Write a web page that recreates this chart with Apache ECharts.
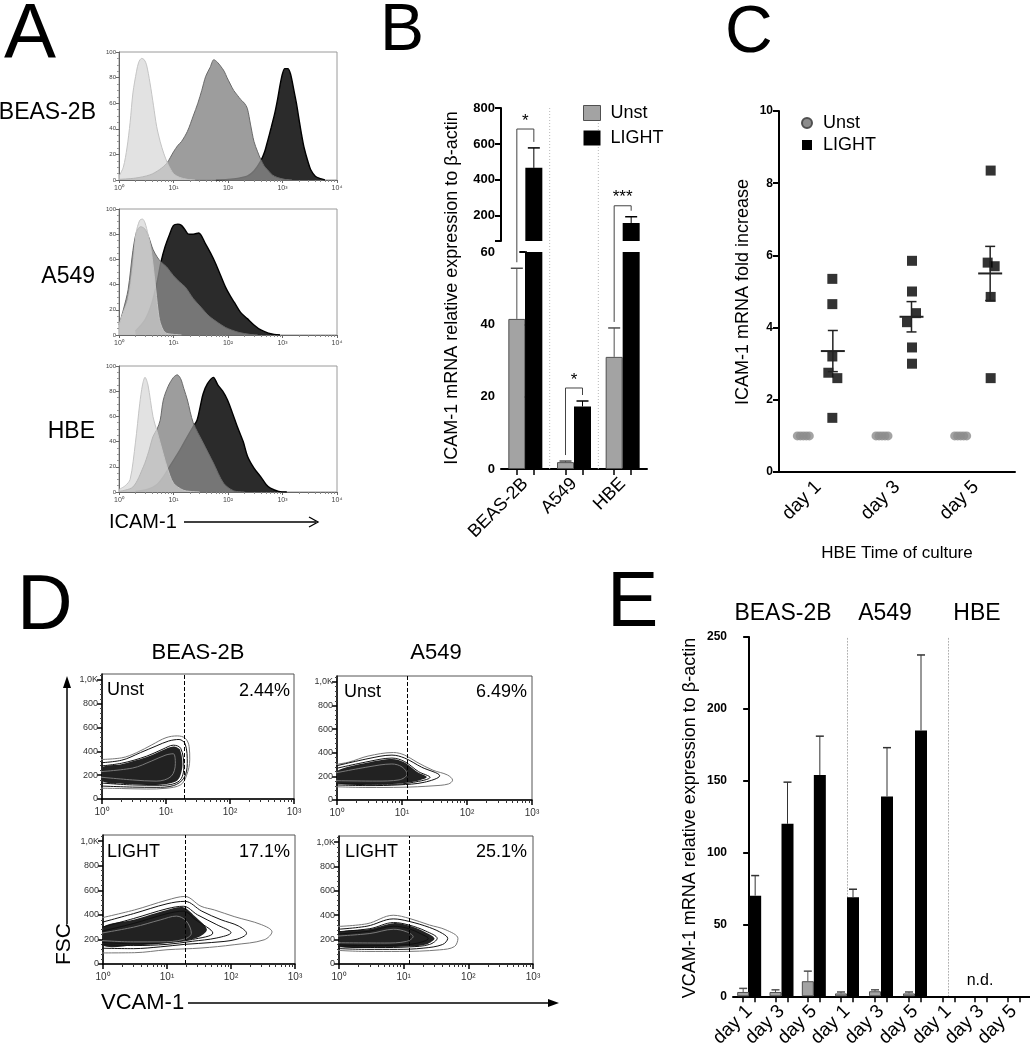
<!DOCTYPE html>
<html><head><meta charset="utf-8">
<script src="https://cdn.jsdelivr.net/npm/echarts@6/dist/echarts.min.js"></script>
<style>html,body{margin:0;padding:0;background:#fff}#c{width:1030px;height:1050px}</style>
</head><body><div id="c"></div>
<script>
// ================= DATA =================
// Panel A: ICAM-1 flow histograms  [intensity, % of max]
const histBeasIso   = [[1,3],[1.2,10],[1.4,25],[1.6,45],[1.8,68],[2.1,85],[2.3,92],[2.6,95],[2.9,94],[3.2,90],[3.7,76],[4.3,58],[4.9,42],[5.7,30],[6.6,21],[8,12],[10,5],[13,2],[18,0.5],[25,0]];
const histBeasUnst  = [[1,0.5],[2,1.5],[3.7,4],[5.5,8],[7.5,13],[10,22],[12,27],[14,30],[18,38],[23,50],[28,60],[33,70],[39,81],[47,88],[55,94],[64,92],[73,89],[85,85],[96,80],[110,75],[127,70],[150,66],[170,63],[200,60],[226,56],[260,43],[300,30],[350,22],[400,16],[460,11],[530,8],[650,4],[800,2],[1100,0.5],[1500,0]];
const histBeasLight = [[60,0],[100,0.5],[160,1.5],[226,3],[300,7],[400,15],[470,22],[530,30],[620,41],[720,52],[820,64],[910,75],[1000,83],[1100,87],[1250,87],[1400,83],[1620,70],[1800,60],[2000,48],[2250,35],[2500,25],[2900,15],[3300,8],[4000,3],[5000,1],[6000,0]];
const histA549Iso   = [[1,8],[1.2,18],[1.47,28],[1.8,54],[2.06,81],[2.4,91],[2.7,92],[3,89],[3.4,80],[3.9,67],[4.6,41],[5.2,20],[5.7,10],[7,2],[10,0.5],[14,0]];
const histA549Unst  = [[1,8],[1.2,20],[1.47,36],[1.8,67],[2.1,82],[2.5,86],[3,84],[3.5,78],[4.2,68],[5,62],[5.9,58],[7.5,54],[10,47],[13,42],[16.5,38],[23,29],[32,22],[45,15],[67,9.5],[90,6],[116,4],[160,2],[250,0.5],[350,0]];
const histA549Light = [[2,3],[3,12],[4,25],[5,42],[5.9,58],[7,70],[8.5,80],[10,87],[12,88],[14,87],[16,84],[19,80],[23,80],[29,81],[38,73],[48,65],[59,57],[72,48],[90,38],[110,31],[130,26],[170,18],[226,13],[300,8],[400,4],[550,1.5],[700,0.5],[900,0]];
const histHbeIso    = [[1,2],[1.3,5],[1.6,10],[2,39],[2.4,70],[2.7,85],[3,91],[3.4,85],[4.2,60],[5,48],[5.7,39],[6.6,29],[7.6,20],[10,7],[15,1.5],[20,0.5],[30,0]];
const histHbeUnst   = [[1,0.5],[1.8,4],[2.8,20],[3.5,32],[4.2,44],[5,50],[5.7,57],[6.5,73],[8,84],[10,91],[11.7,93],[13.5,90],[15.5,82],[18,73],[23,55],[35,39],[54,23],[83,7],[126,1],[200,0]];
const histHbeLight  = [[2,0.5],[3.3,2],[5,6],[6.5,12],[9,22],[13,33],[18,44],[23,52],[27,57],[31,68],[35,78],[42,86],[54,91],[65,85],[80,80],[98,73],[120,63],[148,52],[190,40],[230,28],[300,19],[400,12],[500,6],[600,3],[850,0.5],[1200,0]];
const histRowLabels = ['BEAS-2B','A549','HBE'];

// Panel B: ICAM-1 mRNA
const bCategories = ['BEAS-2B','A549','HBE'];
const bUnst     = [41.5, 1.9, 31];
const bUnstErr  = [14, 0.3, 8];
const bLight    = [467, 17.3, 160];
const bLightErr = [111, 1.5, 35];
const bSigText  = ['*','*','***'];
const bSigLevel = [683, 22.4, 256];
const bUpperTicks = [60,200,400,600,800];
const bUpperLabels = [200,400,600,800];

// Panel C: HBE time course
const cDays  = ['day 1','day 3','day 5'];
const cUnst  = [[1,1,1,1,1],[1,1,1,1,1],[1,1,1,1,1]];
const cLight = [[5.35,4.65,3.2,2.75,2.6,1.5],[5.85,5.0,4.4,4.15,3.45,3.0],[8.35,5.8,5.7,4.85,2.6]];
const cMean  = [3.35, 4.3, 5.5];
const cSem   = [0.57, 0.42, 0.75];

// Panel D: VCAM-1 contour plots  [VCAM-1 intensity, FSC]
const dBeasUnstContours = [
  [[0.7,330],[2,345],[3.5,390],[6,455],[10,515],[15,530],[20,510],[23,440],[23.5,330],[21,200],[17,120],[10,90],[5,84],[2,88],[0.7,92]],
  [[0.7,300],[2,325],[4,390],[7,445],[11,487],[16,500],[20,460],[21.5,300],[19,175],[13,112],[7,98],[3,100],[0.7,112]],
  [[0.7,270],[2,300],[5,360],[9,420],[13,452],[17,425],[19,270],[16,150],[8,115],[3,118],[0.7,140]]
];
const dBeasUnstCore  = [[1,265],[2,292],[5,352],[9,412],[13,442],[16.5,415],[18,270],[15,155],[8,120],[3,124],[1,150]];
const dBeasUnstInner = [[0.7,225],[3,260],[6,320],[10,370],[13,380],[14,300],[12,190],[7,150],[3,160],[0.7,190]];
const dA549UnstContours = [
  [[0.7,290],[1.5,320],[3,372],[7.4,402],[11,380],[17,320],[30,252],[50,212],[60,168],[52,136],[30,120],[10,108],[3,106],[0.7,115]],
  [[0.7,270],[3,350],[7,380],[11,355],[20,278],[38,205],[22,150],[9,128],[3,122],[0.7,130]],
  [[0.7,250],[3,325],[7,355],[11,325],[18,240],[27,192],[15,150],[7,133],[0.7,140]]
];
const dA549UnstCore  = [[1,245],[3,318],[7,348],[11,318],[17,240],[24,193],[14,152],[7,136],[1,142]];
const dA549UnstInner = [[0.7,215],[3,280],[7,305],[10,280],[12,220],[9,170],[4,160],[0.7,165]];
const dBeasLightContours = [
  [[0.7,360],[3.1,440],[10,520],[19,550],[34,470],[55,440],[112,386],[300,320],[437,262],[330,197],[112,157],[34,130],[10,116],[3.1,92],[0.7,90]],
  [[0.7,320],[3,410],[10,490],[19,510],[35,430],[70,360],[130,310],[175,250],[120,200],[50,175],[19,160],[8,140],[3,125],[0.7,130]],
  [[0.7,280],[3,370],[10,450],[18,470],[30,400],[60,320],[100,255],[60,212],[25,185],[10,160],[3,150],[0.7,160]],
  [[0.7,250],[3,330],[10,410],[18,430],[28,360],[52,252],[25,200],[10,175],[3,165],[0.7,180]]
];
const dBeasLightCore  = [[1,300],[3,360],[10,440],[18,462],[27,390],[42,280],[30,215],[12,175],[3,150],[1,150]];
const dBeasLightInner = [[0.7,240],[3,300],[8,360],[14,390],[20,350],[24,250],[18,200],[8,180],[3,180],[0.7,195]];
const dA549LightContours = [
  [[0.7,305],[2.7,330],[6.9,400],[12.4,373],[25,320],[45,280],[69,210],[61,143],[36,116],[8.7,103],[2.7,103],[0.7,116]],
  [[0.7,280],[2.7,310],[6.9,370],[12,350],[25,300],[40,250],[48,210],[40,160],[20,130],[8,120],[2.7,120],[0.7,130]],
  [[0.7,260],[3,290],[7,340],[12,320],[22,270],[33,210],[25,160],[12,140],[4,135],[0.7,145]],
  [[0.7,240],[3,270],[7,310],[12,290],[18,250],[24,210],[16,170],[8,155],[3,150],[0.7,160]]
];
const dA549LightCore  = [[1,258],[3,288],[7,335],[12,315],[21,265],[30,210],[23,163],[12,143],[4,138],[1,145]];
const dA549LightInner = [[0.7,225],[3,250],[7,285],[11,265],[14,225],[11,185],[5,172],[0.7,175]];
const dGates    = [19, 12, 19, 12];
const dPercents = ['2.44%','6.49%','17.1%','25.1%'];
const dConditions = ['Unst','Unst','LIGHT','LIGHT'];
const dColumnTitles = ['BEAS-2B','A549'];
const dTicksY = [0,200,400,600,800,1000];

// Panel E: VCAM-1 mRNA
const eLines    = ['BEAS-2B','A549','HBE'];
const eDays     = ['day 1','day 3','day 5'];
const eUnst     = [[3,3,10.5],[2,3.5,2],[null,null,null]];
const eUnstErr  = [[2.5,1.5,7],[1,1,1],[null,null,null]];
const eLight    = [[70,120,154],[69,139,185],[null,null,null]];
const eLightErr = [[14,29,27],[5.5,34,52.5],[null,null,null]];

// ================= STYLE / LAYOUT =================
const FONT = "'Liberation Sans', Arial, Helvetica, sans-serif";
const SUP = ['⁰','¹','²','³','⁴'];
const logLabel = v => '10' + SUP[Math.round(Math.log10(v))];
const grids = [], xAxes = [], yAxes = [], series = [];
const addGrid = g => (grids.push(g), grids.length - 1);
const addX = a => (xAxes.push(a), xAxes.length - 1);
const addY = a => (yAxes.push(a), yAxes.length - 1);
const pairTicks = (n, barW, gridW) => { const off = (barW / 2) / (gridW / n); const t = []; for (let i = 0; i < n; i++) t.push(i - off, i + off); return t; };

function errItems(vals, errs, keep) {
  const out = [];
  vals.forEach((v, i) => { if (v == null) return; if (keep(v, v + errs[i])) out.push([i, v, v + errs[i]]); });
  return out;
}
function errSeries(xi, yi, items, side, color, barW, capW) {
  return {type: 'custom', xAxisIndex: xi, yAxisIndex: yi, silent: true, z: 5, data: items,
    encode: {x: 0, y: [1, 2]},
    renderItem: (params, api) => {
      const p0 = api.coord([api.value(0), api.value(1)]);
      const p1 = api.coord([api.value(0), api.value(2)]);
      const x = p0[0] + side * barW / 2;
      return {type: 'group', children: [
        {type: 'line', shape: {x1: x, y1: p0[1], x2: x, y2: p1[1]}, style: {stroke: color, lineWidth: 1}},
        {type: 'line', shape: {x1: x - capW / 2, y1: p1[1], x2: x + capW / 2, y2: p1[1]}, style: {stroke: color, lineWidth: 1.5}}
      ]};
    }};
}

// ---------- Panel A ----------
const histGrids = [{top: 52, height: 128}, {top: 209, height: 126}, {top: 366, height: 126}];
const histSets = [[histBeasLight, histBeasUnst, histBeasIso], [histA549Light, histA549Unst, histA549Iso], [histHbeLight, histHbeUnst, histHbeIso]];
const histLayer = [
  {fill: '#2b2b2b', op: 1, line: '#000', w: 1.4},
  {fill: '#878787', op: 0.82, line: '#6a6a6a', w: 1},
  {fill: '#d6d6d6', op: 0.7, line: '#c4c4c4', w: 1}
];
histGrids.forEach((hg, k) => {
  const g = addGrid({left: 119, width: 218, top: hg.top, height: hg.height, show: true, borderColor: '#9a9a9a', borderWidth: 1});
  const xi = addX({gridIndex: g, type: 'log', logBase: 10, min: 1, max: 10000,
    axisLine: {lineStyle: {color: '#666', width: 1}}, axisTick: {length: 3, lineStyle: {color: '#666'}},
    minorTick: {show: true, splitNumber: 9, length: 2, lineStyle: {color: '#888'}},
    axisLabel: {formatter: logLabel, fontSize: 7, color: '#444', margin: 5, fontFamily: FONT}, splitLine: {show: false}, minorSplitLine: {show: false}});
  const yi = addY({gridIndex: g, type: 'value', min: 0, max: 100, interval: 20,
    axisLine: {show: true, lineStyle: {color: '#666', width: 1}}, axisTick: {show: true, length: 3, lineStyle: {color: '#666'}},
    minorTick: {show: true, splitNumber: 4, length: 2, lineStyle: {color: '#999'}},
    axisLabel: {fontSize: 6, color: '#444', margin: 3, fontFamily: FONT}, splitLine: {show: false}});
  histSets[k].forEach((d, j) => {
    const L = histLayer[j];
    series.push({type: 'line', name: 'hist' + k + '_' + j, xAxisIndex: xi, yAxisIndex: yi, data: d, smooth: 0.3,
      symbol: 'none', silent: true, z: 2 + j,
      lineStyle: {color: L.line, width: L.w}, areaStyle: {color: L.fill, opacity: L.op}});
  });
});

// ---------- Panel B ----------
const B_LEFT = 501, B_W = 146, B_BAR = 17;
const gBU = addGrid({left: B_LEFT, width: B_W, top: 108, height: 133});
const gBL = addGrid({left: B_LEFT, width: B_W, top: 252, height: 217});
const xBU = addX({gridIndex: gBU, type: 'category', data: bCategories, axisLine: {show: false}, axisTick: {show: false}, axisLabel: {show: false}});
const xBL = addX({gridIndex: gBL, type: 'category', data: bCategories,
  axisLine: {lineStyle: {color: '#000', width: 2}}, axisTick: {show: false},
  axisLabel: {rotate: 45, fontSize: 18, color: '#000', margin: 12, fontFamily: FONT}});
addX({gridIndex: gBL, type: 'value', position: 'bottom', min: -0.5, max: 2.5,
  axisLine: {show: false}, axisLabel: {show: false}, splitLine: {show: false},
  axisTick: {show: true, length: 6, lineStyle: {color: '#000', width: 1.5}, customValues: pairTicks(3, B_BAR, B_W)}});
const yBU = addY({gridIndex: gBU, type: 'value', min: 60, max: 800,
  axisLine: {show: true, lineStyle: {color: '#000', width: 2}},
  axisTick: {show: true, length: 6, lineStyle: {color: '#000', width: 2}, customValues: bUpperTicks},
  axisLabel: {customValues: bUpperLabels, fontSize: 13, fontWeight: 'bold', color: '#000', margin: 6, fontFamily: FONT}, splitLine: {show: false}});
const yBL = addY({gridIndex: gBL, type: 'value', min: 0, max: 60, interval: 20,
  axisLine: {show: true, lineStyle: {color: '#000', width: 2}},
  axisTick: {show: true, length: 6, lineStyle: {color: '#000', width: 2}},
  axisLabel: {fontSize: 13, fontWeight: 'bold', color: '#000', margin: 6, fontFamily: FONT}, splitLine: {show: false}});
[[xBU, yBU, (v, t) => v > 60], [xBL, yBL, (v, t) => t <= 60]].forEach(([xi, yi, keep]) => {
  series.push({type: 'bar', name: 'Unst', xAxisIndex: xi, yAxisIndex: yi, data: bUnst, barWidth: B_BAR, barGap: '0%', silent: true,
    itemStyle: {color: '#a3a3a3', borderColor: '#505050', borderWidth: 1}});
  series.push({type: 'bar', name: 'LIGHT', xAxisIndex: xi, yAxisIndex: yi, data: bLight, barWidth: B_BAR, barGap: '0%', silent: true,
    itemStyle: {color: '#000'}});
  series.push(errSeries(xi, yi, errItems(bUnst, bUnstErr, keep), -1, '#505050', B_BAR, 12));
  series.push(errSeries(xi, yi, errItems(bLight, bLightErr, keep), 1, '#000', B_BAR, 12));
});

// ---------- Panel C ----------
const C_UNST_JITTER = [-21, -18, -15, -12, -9];
const C_LIGHT_JITTER = [[14, 14, 14, 10, 19, 14], [15, 15, 19, 10, 15, 15], [15, 12, 19, 15, 15]];
const C_MEAN_SHIFT = 14.5;
const gC = addGrid({left: 779, width: 236, top: 111, height: 361});
const xC = addX({gridIndex: gC, type: 'category', data: cDays,
  axisLine: {lineStyle: {color: '#000', width: 2}}, axisTick: {alignWithLabel: true, length: 6, lineStyle: {color: '#000', width: 2}},
  axisLabel: {rotate: 45, fontSize: 19, color: '#000', margin: 12, fontFamily: FONT}});
const yC = addY({gridIndex: gC, type: 'value', min: 0, max: 10, interval: 2,
  axisLine: {show: true, lineStyle: {color: '#000', width: 2}}, axisTick: {show: true, length: 6, lineStyle: {color: '#000', width: 2}},
  axisLabel: {fontSize: 12, fontWeight: 'bold', color: '#000', margin: 6, fontFamily: FONT}, splitLine: {show: false}});
series.push({type: 'scatter', name: 'Unst', xAxisIndex: xC, yAxisIndex: yC, symbol: 'circle', symbolSize: 9, silent: true, z: 3,
  itemStyle: {color: '#8c8c8c'},
  data: cUnst.flatMap((vals, d) => vals.map((v, j) => ({value: [d, v], symbolOffset: [C_UNST_JITTER[j], 0]})))});
series.push({type: 'scatter', name: 'LIGHT', xAxisIndex: xC, yAxisIndex: yC, symbol: 'rect', symbolSize: 10, silent: true, z: 3,
  itemStyle: {color: '#000'},
  data: cLight.flatMap((vals, d) => vals.map((v, j) => ({value: [d, v], symbolOffset: [C_LIGHT_JITTER[d][j], 0]})))});
series.push({type: 'custom', xAxisIndex: xC, yAxisIndex: yC, silent: true, z: 4,
  data: cMean.map((m, i) => [i, m, m - cSem[i], m + cSem[i]]), encode: {x: 0, y: [1, 2, 3]},
  renderItem: (params, api) => {
    const pm = api.coord([api.value(0), api.value(1)]);
    const yl = api.coord([api.value(0), api.value(2)])[1];
    const yh = api.coord([api.value(0), api.value(3)])[1];
    const cx = pm[0] + C_MEAN_SHIFT;
    const st = {stroke: '#222', lineWidth: 1.5};
    return {type: 'group', children: [
      {type: 'line', shape: {x1: cx - 12, y1: pm[1], x2: cx + 12, y2: pm[1]}, style: {stroke: '#222', lineWidth: 2}},
      {type: 'line', shape: {x1: cx, y1: yl, x2: cx, y2: yh}, style: st},
      {type: 'line', shape: {x1: cx - 5, y1: yl, x2: cx + 5, y2: yl}, style: st},
      {type: 'line', shape: {x1: cx - 5, y1: yh, x2: cx + 5, y2: yh}, style: st}
    ]};
  }});

// ---------- Panel D ----------
const dPlots = [
  {grid: {left: 102, top: 674, width: 192, height: 125}, contours: dBeasUnstContours, core: dBeasUnstCore, inner: dBeasUnstInner},
  {grid: {left: 337, top: 676, width: 195, height: 124}, contours: dA549UnstContours, core: dA549UnstCore, inner: dA549UnstInner},
  {grid: {left: 103, top: 835, width: 192, height: 129}, contours: dBeasLightContours, core: dBeasLightCore, inner: dBeasLightInner},
  {grid: {left: 339, top: 836, width: 194, height: 128}, contours: dA549LightContours, core: dA549LightCore, inner: dA549LightInner}
];
dPlots.forEach((p, k) => {
  const g = addGrid(Object.assign({show: true, borderColor: '#555', borderWidth: 1}, p.grid));
  const xi = addX({gridIndex: g, type: 'log', logBase: 10, min: 1, max: 1000,
    axisLine: {lineStyle: {color: '#000', width: 1.5}}, axisTick: {length: 5, lineStyle: {color: '#000', width: 1.5}},
    minorTick: {show: true, splitNumber: 9, length: 3, lineStyle: {color: '#333'}},
    axisLabel: {formatter: logLabel, fontSize: 10, color: '#333', margin: 8, fontFamily: FONT}, splitLine: {show: false}, minorSplitLine: {show: false}});
  const yi = addY({gridIndex: g, type: 'value', min: 0, max: 1050, interval: 200,
    axisLine: {show: true, lineStyle: {color: '#000', width: 1.5}},
    axisTick: {show: true, length: 5, lineStyle: {color: '#000', width: 1.5}, customValues: dTicksY},
    minorTick: {show: true, splitNumber: 5, length: 2, lineStyle: {color: '#444'}},
    axisLabel: {customValues: dTicksY, formatter: v => v >= 1000 ? (v === 1000 ? '1,0K' : '') : String(v), fontSize: 9, color: '#333', margin: 4, fontFamily: FONT},
    splitLine: {show: false}});
  series.push({type: 'custom', xAxisIndex: xi, yAxisIndex: yi, silent: true, z: 2, clip: true, data: [[10, 500]],
    renderItem: (params, api) => ({type: 'polygon', shape: {points: p.core.map(pt => api.coord(pt)), smooth: 0.3},
      style: {fill: '#222'}})});
  series.push({type: 'line', name: 'inner' + k, xAxisIndex: xi, yAxisIndex: yi, data: p.inner, smooth: 0.35, symbol: 'none',
    silent: true, clip: true, z: 4, lineStyle: {color: '#7a7a7a', width: 1}});
  p.contours.forEach((c, j) => {
    series.push({type: 'line', name: 'contour' + k + '_' + j, xAxisIndex: xi, yAxisIndex: yi, data: c, smooth: 0.35, symbol: 'none',
      silent: true, clip: true, z: 3, lineStyle: {color: j === 0 ? '#777' : '#111', width: 1},
      markLine: j === 0 ? {silent: true, symbol: 'none', label: {show: false}, lineStyle: {type: 'dashed', color: '#000', width: 1},
        data: [{xAxis: dGates[k]}]} : undefined});
  });
});

// ---------- Panel E ----------
const E_BAR = 12, E_TOP = 637, E_H = 363;
const eGridPos = [{left: 733, width: 97}, {left: 830, width: 102}, {left: 932, width: 98}];
eGridPos.forEach((gp, k) => {
  const g = addGrid({left: gp.left, width: gp.width, top: E_TOP, height: E_H});
  const xi = addX({gridIndex: g, type: 'category', data: eDays,
    axisLine: {lineStyle: {color: '#000', width: 2}}, axisTick: {show: false},
    axisLabel: {rotate: 45, fontSize: 19, color: '#000', margin: 12, fontFamily: FONT, interval: 0}});
  addX({gridIndex: g, type: 'value', position: 'bottom', min: -0.5, max: 2.5,
    axisLine: {show: false}, axisLabel: {show: false}, splitLine: {show: false},
    axisTick: {show: true, length: 6, lineStyle: {color: '#000', width: 1.5}, customValues: pairTicks(3, E_BAR, gp.width)}});
  const yi = addY(k === 0 ? {gridIndex: g, type: 'value', min: 0, max: 250, interval: 50,
      axisLine: {show: true, lineStyle: {color: '#000', width: 2}}, axisTick: {show: true, length: 6, lineStyle: {color: '#000', width: 2}},
      axisLabel: {fontSize: 12, fontWeight: 'bold', color: '#000', margin: 6, fontFamily: FONT}, splitLine: {show: false}}
    : {gridIndex: g, type: 'value', min: 0, max: 250, interval: 50,
      axisLine: {show: true, lineStyle: {color: '#b0b0b0', width: 1, type: [1, 2]}}, axisTick: {show: false}, axisLabel: {show: false}, splitLine: {show: false}});
  series.push({type: 'bar', name: 'Unst', xAxisIndex: xi, yAxisIndex: yi, data: eUnst[k], barWidth: E_BAR, barGap: '0%', silent: true,
    itemStyle: {color: '#a3a3a3', borderColor: '#505050', borderWidth: 1}});
  series.push({type: 'bar', name: 'LIGHT', xAxisIndex: xi, yAxisIndex: yi, data: eLight[k], barWidth: E_BAR, barGap: '0%', silent: true,
    itemStyle: {color: '#000'}});
  series.push(errSeries(xi, yi, errItems(eUnst[k], eUnstErr[k], () => true), -1, '#505050', E_BAR, 8));
  series.push(errSeries(xi, yi, errItems(eLight[k], eLightErr[k], () => true), 1, '#333', E_BAR, 8));
});

// ---------- legends ----------
const legends = [
  {left: 578, top: 98, orient: 'vertical', itemWidth: 17, itemHeight: 15, itemGap: 5, selectedMode: false,
    textStyle: {fontSize: 18, color: '#000', fontFamily: FONT, lineHeight: 20, padding: [0, 0, 0, 5]},
    data: [{name: 'Unst', icon: 'rect', itemStyle: {color: '#a3a3a3', borderColor: '#505050', borderWidth: 1}},
           {name: 'LIGHT', icon: 'rect', itemStyle: {color: '#000'}}]},
  {left: 796, top: 108, orient: 'vertical', itemWidth: 10, itemHeight: 10, itemGap: 2, selectedMode: false,
    textStyle: {fontSize: 18, color: '#000', fontFamily: FONT, lineHeight: 20, padding: [0, 0, 0, 6]},
    data: [{name: 'Unst', icon: 'circle', itemStyle: {color: '#8c8c8c'}},
           {name: 'LIGHT', icon: 'rect', itemStyle: {color: '#000'}}]}
];

// ---------- texts ----------
function txt(t, x, y, size, o) {
  o = o || {};
  return {type: 'text', x: x, y: y, rotation: o.rot || 0, silent: true, z: 50,
    style: {text: t, font: (o.weight || 'normal') + ' ' + size + 'px ' + FONT, fill: '#000',
      align: o.align || 'left', verticalAlign: 'middle', textAlign: o.align || 'left', textVerticalAlign: 'middle'}};
}
const line = (x1, y1, x2, y2, w) => ({type: 'line', silent: true, z: 50, shape: {x1, y1, x2, y2}, style: {stroke: '#000', lineWidth: w || 1.5}});
const tri = pts => ({type: 'polygon', silent: true, z: 50, shape: {points: pts}, style: {fill: '#000'}});
const graphics = [
  txt('A', 4, 36, 78), txt('B', 380, 32, 66), txt('C', 725, 34, 66), txt('D', 17, 608, 77), txt('E', 607, 605, 77),
  txt(histRowLabels[0], 96, 113, 23, {align: 'right'}), txt(histRowLabels[1], 95, 277, 23, {align: 'right'}), txt(histRowLabels[2], 95, 432, 23, {align: 'right'}),
  txt('ICAM-1', 109, 522, 20), line(184, 522, 316, 522, 1.3), {type: 'polyline', silent: true, shape: {points: [[309, 517], [318, 522], [309, 527]]}, style: {stroke: '#000', lineWidth: 1.3, fill: null}},
  txt('ICAM-1 mRNA relative expression to β-actin', 452, 288, 18, {rot: Math.PI / 2, align: 'center'}),
  txt('ICAM-1 mRNA fold increase', 743, 292, 18, {rot: Math.PI / 2, align: 'center'}),
  txt('HBE Time of culture', 897, 553, 17, {align: 'center'}),
  txt(dColumnTitles[0], 198, 653, 22, {align: 'center'}), txt(dColumnTitles[1], 436, 653, 22, {align: 'center'}),
  txt(dConditions[0], 107, 690, 18), txt(dPercents[0], 290, 691, 18, {align: 'right'}),
  txt(dConditions[1], 344, 692, 18), txt(dPercents[1], 527, 692, 18, {align: 'right'}),
  txt(dConditions[2], 107, 852, 18), txt(dPercents[2], 290, 852, 18, {align: 'right'}),
  txt(dConditions[3], 345, 852, 18), txt(dPercents[3], 527, 852, 18, {align: 'right'}),
  line(67, 924, 67, 684, 1.5), tri([[63, 688], [67, 676], [71, 688]]),
  txt('FSC', 64, 944, 21, {rot: Math.PI / 2, align: 'center'}),
  txt('VCAM-1', 101, 1003, 22), line(188, 1003, 552, 1003, 1.5), tri([[548, 999], [559, 1003], [548, 1007]]),
  txt(eLines[0], 783, 614, 23, {align: 'center'}), txt(eLines[1], 885, 614, 23, {align: 'center'}), txt(eLines[2], 977, 614, 23, {align: 'center'}),
  txt('VCAM-1 mRNA relative expression to β-actin', 690, 818, 18, {rot: Math.PI / 2, align: 'center'}),
  txt('n.d.', 980, 981, 16, {align: 'center'})
];

const chart = echarts.init(document.getElementById('c'), null, {renderer: 'canvas'});
chart.setOption({animation: false, backgroundColor: '#fff', textStyle: {fontFamily: FONT},
  grid: grids, xAxis: xAxes, yAxis: yAxes, series: series, legend: legends});

// panel B: dotted group separators and significance brackets (positions via the chart's own scales)
function bPix(cat, v) {
  const useUpper = v > 60;
  return chart.convertToPixel({xAxisIndex: useUpper ? xBU : xBL, yAxisIndex: useUpper ? yBU : yBL}, [cat, v]);
}
for (let i = 0; i < bCategories.length - 1; i++) {
  const a = bPix(i, 800), b = bPix(i + 1, 0);
  const xm = (a[0] + b[0]) / 2;
  graphics.push({type: 'line', silent: true, z: 1, shape: {x1: xm, y1: a[1], x2: xm, y2: b[1]},
    style: {stroke: '#b8b8b8', lineWidth: 1, lineDash: [1, 2]}});
}
bCategories.forEach((c, i) => {
  const top = bPix(i, bSigLevel[i]);
  const l = bPix(i, bUnst[i] + bUnstErr[i]);
  const r = bPix(i, bLight[i] + bLightErr[i]);
  const xl = top[0] - B_BAR / 2, xr = top[0] + B_BAR / 2;
  graphics.push({type: 'polyline', silent: true, z: 40, shape: {points: [[xl, l[1] - 6], [xl, top[1]], [xr, top[1]], [xr, r[1] - 6]]},
    style: {stroke: '#444', lineWidth: 1, fill: null}});
  graphics.push(txt(bSigText[i], top[0], top[1] - 8, 17, {align: 'center'}));
});
chart.setOption({graphic: graphics});
</script></body></html>
